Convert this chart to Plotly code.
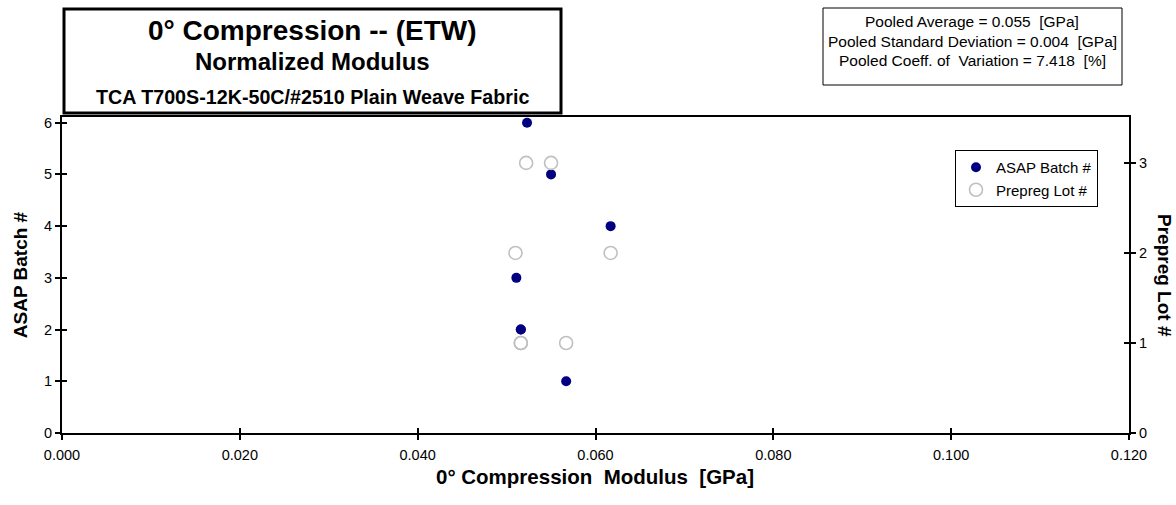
import plotly.graph_objects as go

# ---- data ----
batch_modulus = [0.0523, 0.0550, 0.0617, 0.0511, 0.0516, 0.0516, 0.0567]
batch_number = [6, 5, 4, 3, 2, 2, 1]
lot_modulus = [0.0522, 0.0550, 0.0617, 0.0510, 0.0516, 0.0516, 0.0567]
lot_number = [3, 3, 2, 2, 1, 1, 1]
x_ticks = [0.0, 0.02, 0.04, 0.06, 0.08, 0.10, 0.12]
stats_lines = [
    "Pooled Average = 0.055  [GPa]",
    "Pooled Standard Deviation = 0.004  [GPa]",
    "Pooled Coeff. of  Variation = 7.418  [%]",
]
title_lines = [
    "0° Compression -- (ETW)",
    "Normalized Modulus",
    "TCA T700S-12K-50C/#2510 Plain Weave Fabric",
]

W, H = 1176, 505
L, R, T, B = 62, 47, 117, 72
PW, PH = W - L - R, H - T - B
FONT = "Liberation Sans, Arial, sans-serif"


def px(x):
    return (x - L) / PW


def py(y):
    return (H - B - y) / PH


fig = go.Figure()
fig.add_trace(go.Scatter(
    x=batch_modulus, y=batch_number, mode="markers", name="ASAP Batch #",
    marker=dict(color="#000080", size=10, line=dict(width=0)),
    xaxis="x", yaxis="y"))
fig.add_trace(go.Scatter(
    x=lot_modulus, y=lot_number, mode="markers", name="Prepreg Lot #",
    marker=dict(color="#c0c0c0", size=13, symbol="circle-open",
                line=dict(color="#c0c0c0", width=1.6)),
    xaxis="x", yaxis="y2"))
# empty traces so overlay tick axes (crossing ticks) are drawn
fig.add_trace(go.Scatter(x=[], y=[], xaxis="x3", yaxis="y3", showlegend=False))
fig.add_trace(go.Scatter(x=[], y=[], xaxis="x", yaxis="y4", showlegend=False))

axis_common = dict(showgrid=False, zeroline=False, ticklen=5, tickwidth=1.5,
                   tickcolor="black", tickfont=dict(size=14.5, color="black", family=FONT))
fig.update_layout(
    width=W, height=H, margin=dict(l=L, r=R, t=T, b=B),
    paper_bgcolor="white", plot_bgcolor="white",
    font=dict(family=FONT, color="black"),
    xaxis=dict(range=[0, 0.12], tickvals=x_ticks, tickformat=".3f", ticks="outside",
               showline=True, linewidth=2, linecolor="black", mirror=True,
               ticklabelstandoff=3, **axis_common),
    yaxis=dict(range=[0, 6.11], dtick=1, ticks="outside", showline=True, linewidth=2,
               linecolor="black",
               title=dict(text="<b>ASAP Batch #</b>", font=dict(size=19, family=FONT),
                          standoff=11),
               **axis_common),
    yaxis2=dict(range=[0, 3.51], dtick=1, ticks="outside", overlaying="y", side="right",
                showline=True, linewidth=2, linecolor="black", anchor="x", **axis_common),
    xaxis3=dict(range=[0, 0.12], tickvals=x_ticks, ticks="inside", overlaying="x",
                anchor="y3", showticklabels=False, showline=False, **axis_common),
    yaxis3=dict(range=[0, 6.11], dtick=1, ticks="inside", overlaying="y", anchor="x3",
                side="left", showticklabels=False, showline=False, **axis_common),
    yaxis4=dict(range=[0, 3.51], dtick=1, ticks="inside", overlaying="y", anchor="x",
                side="right", showticklabels=False, showline=False, **axis_common),
    legend=dict(x=px(1098), y=py(150), xanchor="right", yanchor="top",
                bordercolor="black", borderwidth=1, bgcolor="white",
                font=dict(size=15, family=FONT), itemwidth=30,
                tracegroupgap=0),
    showlegend=True,
    hovermode=False,
)

shapes = [
    dict(type="rect", xref="paper", yref="paper", x0=px(64), x1=px(561),
         y0=py(113), y1=py(9), line=dict(color="black", width=3), fillcolor="white",
         layer="above"),
    dict(type="rect", xref="paper", yref="paper", x0=px(823), x1=px(1122),
         y0=py(85), y1=py(8), line=dict(color="black", width=1), fillcolor="white"),
]
fig.update_layout(shapes=shapes)

ann = []
title_specs = [(title_lines[0], 30, 28), (title_lines[1], 62, 24), (title_lines[2], 97, 19.7)]
for text, yc, size in title_specs:
    ann.append(dict(text="<b>%s</b>" % text, x=px(312), y=py(yc), xref="paper", yref="paper",
                    showarrow=False, xanchor="center", yanchor="middle",
                    font=dict(size=size, family=FONT, color="black")))
for i, text in enumerate(stats_lines):
    ann.append(dict(text=text, x=px(972), y=py(22 + 19.5 * i), xref="paper", yref="paper",
                    showarrow=False, xanchor="center", yanchor="middle",
                    font=dict(size=15.5, family=FONT, color="black")))
ann.append(dict(text="<b>0° Compression  Modulus  [GPa]</b>", x=px(595), y=py(476),
                xref="paper", yref="paper", showarrow=False, xanchor="center",
                yanchor="middle", font=dict(size=20.5, family=FONT, color="black")))
ann.append(dict(text="<b>Prepreg Lot #</b>", x=px(1165), y=py(275), xref="paper",
                yref="paper", showarrow=False, textangle=90, xanchor="center",
                yanchor="middle", font=dict(size=19, family=FONT, color="black")))
fig.update_layout(annotations=ann)

fig.write_html("out.html")
